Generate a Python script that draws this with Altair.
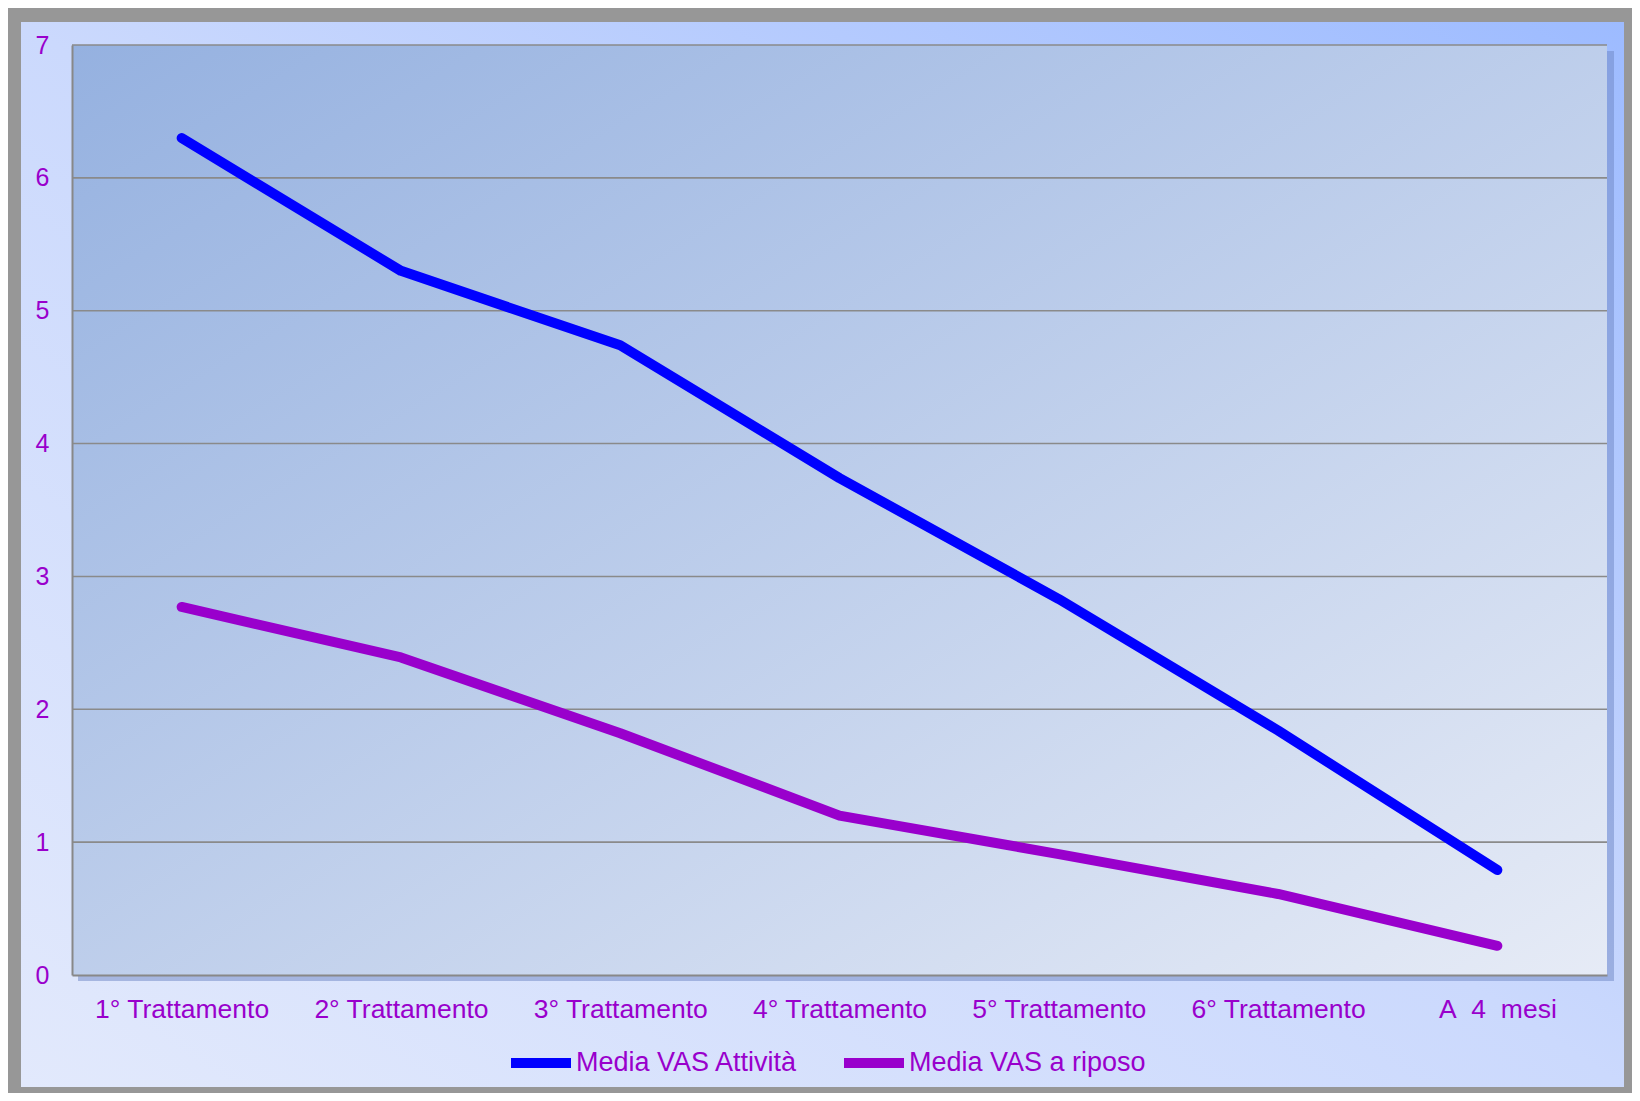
import altair as alt
import pandas as pd

# ---- data ----
categories = ["1° Trattamento", "2° Trattamento", "3° Trattamento", "4° Trattamento",
              "5° Trattamento", "6° Trattamento", "A\u00a0\u00a04\u00a0\u00a0mesi"]
attivita = [6.30, 5.30, 4.74, 3.74, 2.83, 1.84, 0.79]
riposo = [2.77, 2.39, 1.82, 1.20, 0.91, 0.61, 0.22]
series_names = ["Media VAS Attività", "Media VAS a riposo"]
series_colors = ["#0000ff", "#9900cc"]
y_ticks = [0, 1, 2, 3, 4, 5, 6, 7]

rows = []
for c, a, r in zip(categories, attivita, riposo):
    rows.append({"cat": c, "series": series_names[0], "val": a})
    rows.append({"cat": c, "series": series_names[1], "val": r})
df = pd.DataFrame(rows)

W, H = 1535, 930
FONT = "Liberation Sans"
TXT = "#9900cc"

one = alt.Data(values=[{"k": 1}])

panel_grad = alt.LinearGradient(
    gradient="linear", x1=0, y1=1, x2=1, y2=0,
    stops=[alt.GradientStop(color="#e2e9fc", offset=0),
           alt.GradientStop(color="#cbd9fd", offset=0.5),
           alt.GradientStop(color="#9dbbff", offset=1)])
plot_grad = alt.LinearGradient(
    gradient="linear", x1=0, y1=0, x2=1, y2=1,
    stops=[alt.GradientStop(color="#95b1e0", offset=0),
           alt.GradientStop(color="#e6ebf6", offset=1)])

panel = alt.Chart(one).mark_rect(color=panel_grad).encode(
    x=alt.value(-51), x2=alt.value(1552), y=alt.value(-23), y2=alt.value(1042))
shadow = alt.Chart(one).mark_rect(color="#6d86c4", opacity=0.5).encode(
    x=alt.value(6), x2=alt.value(W + 7), y=alt.value(6), y2=alt.value(H + 6))
plotbg = alt.Chart(one).mark_rect(color=plot_grad).encode(
    x=alt.value(0), x2=alt.value(W), y=alt.value(0), y2=alt.value(H))

yscale = alt.Scale(domain=[0, 7], nice=False, zero=True)
y_axis = alt.Axis(title=None, values=y_ticks, labelFontSize=25, labelColor=TXT,
                  labelFont=FONT, labelPadding=23, ticks=False, tickSize=0,
                  domainColor="#888888", domainWidth=2, grid=False, zindex=1)

grid = alt.Chart(pd.DataFrame({"val": y_ticks[1:]})).mark_rule(
    color="#8a8a8a", strokeWidth=1.6).encode(
    y=alt.Y("val:Q", scale=yscale, axis=y_axis))

lines = alt.Chart(df).mark_line(strokeWidth=10, strokeCap="round", strokeJoin="round").encode(
    x=alt.X("cat:N", sort=categories, scale=alt.Scale(type="point", padding=0.5),
            axis=alt.Axis(title=None, labelAngle=0, labelFontSize=26.5, labelColor=TXT,
                          labelFont=FONT, labelPadding=21, ticks=False, tickSize=0,
                          domainColor="#888888", domainWidth=2, grid=False, zindex=1,
                          labelLimit=0)),
    y=alt.Y("val:Q", scale=yscale, axis=y_axis),
    color=alt.Color("series:N", sort=series_names,
                    scale=alt.Scale(domain=series_names, range=series_colors),
                    legend=alt.Legend(title=None, orient="none", legendX=434, legendY=983,
                                      direction="horizontal", symbolType="stroke",
                                      symbolSize=3600, symbolStrokeWidth=10,
                                      labelFontSize=27, labelColor=TXT, labelFont=FONT,
                                      labelOffset=0, columnPadding=26, labelLimit=0,
                                      padding=0)),
)

chart = alt.layer(panel, shadow, plotbg, grid, lines).properties(
    width=W, height=H,
    autosize=alt.AutoSizeParams(type="none"),
    padding={"left": 64, "top": 37, "right": 25, "bottom": 118},
    background="#979797",
).configure_view(stroke=None)

chart.save("out.html", embed_options={"renderer": "svg", "actions": False})
